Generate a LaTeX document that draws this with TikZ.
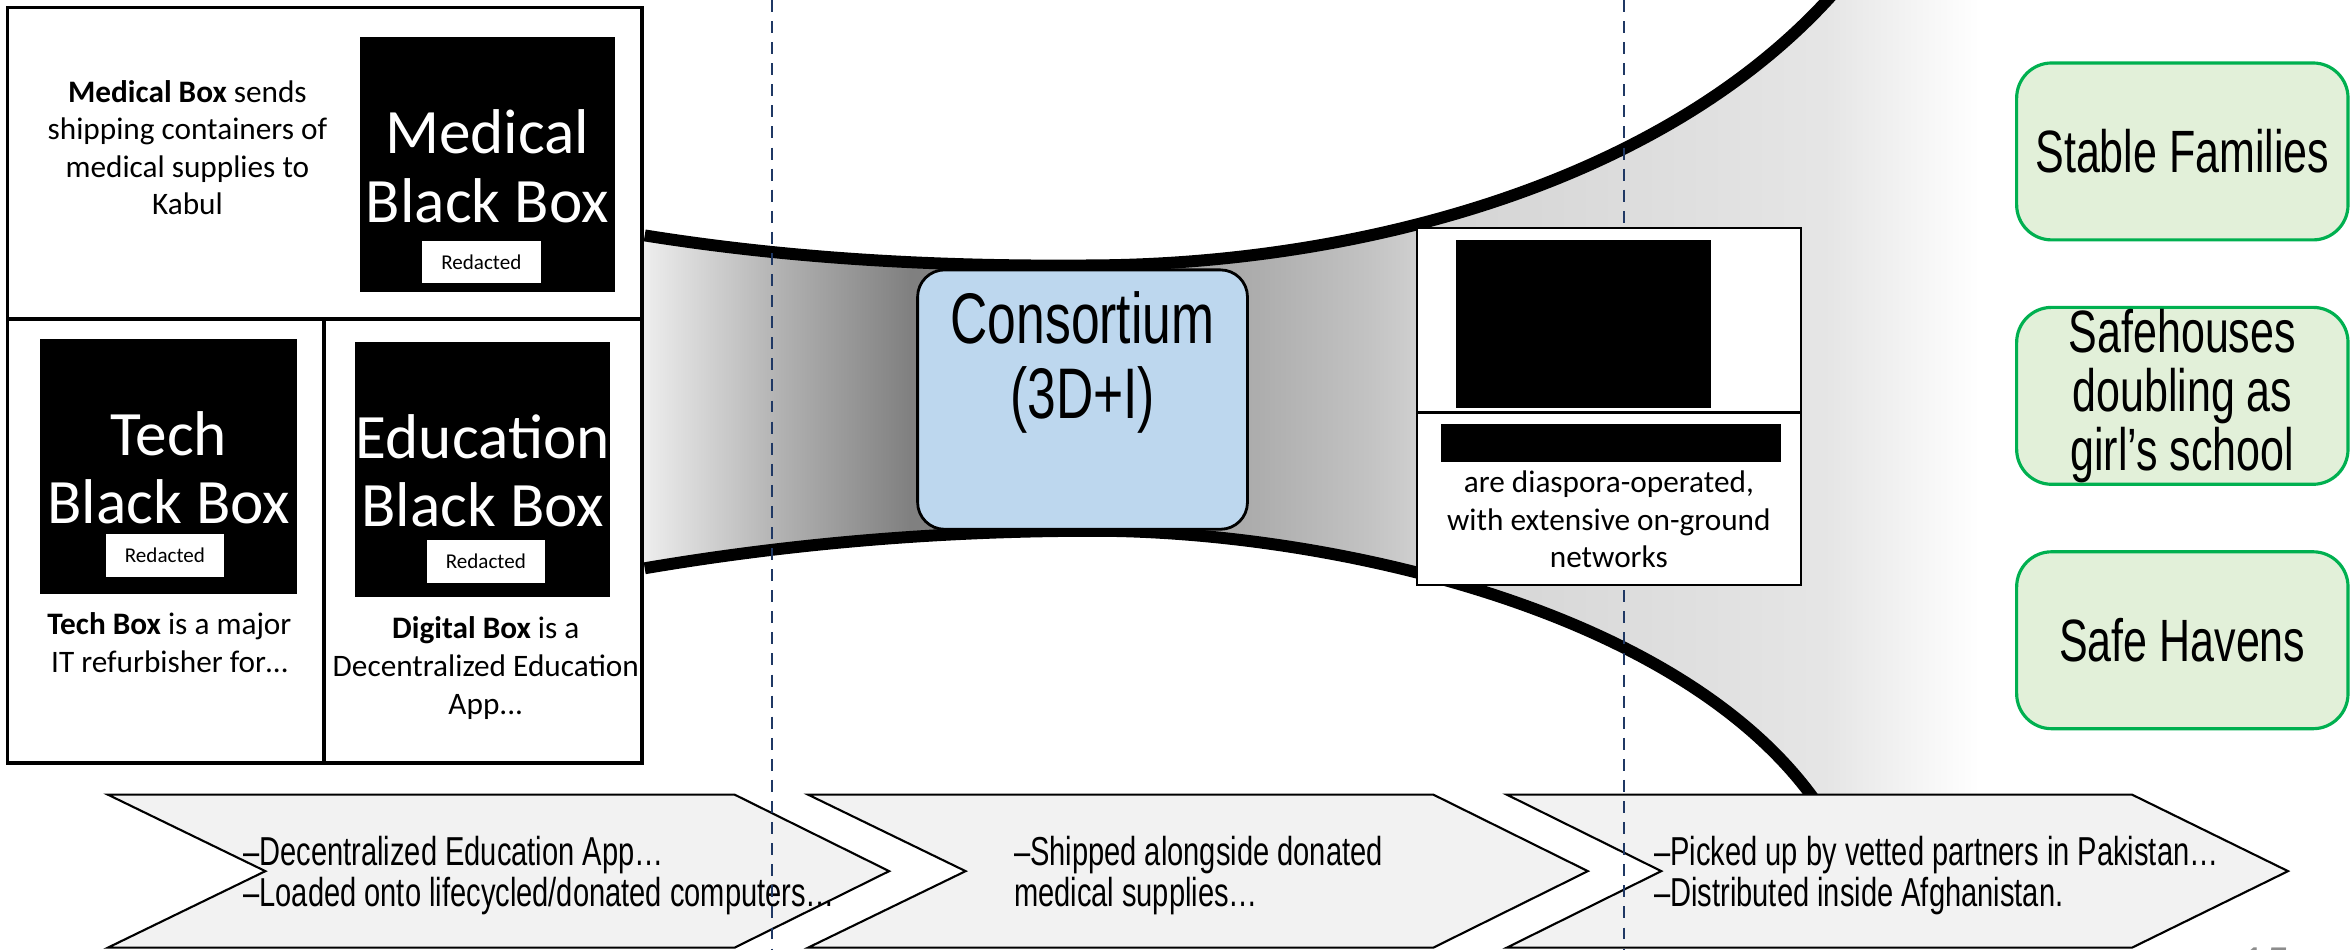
\documentclass[tikz,border=0pt]{standalone}
\usepackage{fontspec}
\setmainfont{Carlito}
\newfontfamily\narrowfont[FakeStretch=0.72]{Liberation Sans}
\usetikzlibrary{calc}
\definecolor{consblue}{HTML}{BDD7EE}
\definecolor{havenfill}{HTML}{E2F0D9}
\definecolor{havenline}{HTML}{00B050}
\definecolor{chevfill}{HTML}{F2F2F2}
\definecolor{cutnavy}{HTML}{1F3864}
\newcommand{\px}{0.015cm}
\pgfdeclarehorizontalshading{funnelgrey}{100bp}{color(0bp)=(black!7); color(25bp)=(black!7);
  color(30bp)=(black!30); color(35bp)=(black!50); color(48bp)=(black!32); color(52bp)=(black!24);
  color(54.6bp)=(black!17); color(69.3bp)=(black!10); color(75bp)=(white); color(100bp)=(white)}

\begin{document}
\begin{tikzpicture}[x=0.015cm,y=-0.015cm,
      panel/.style={draw,line width=1.1pt,inner sep=0pt},
      blackbox/.style={fill=black,inner sep=0pt},
      title/.style={text=white,align=center,font=\fontsize{18}{19.6}\selectfont},
      redact/.style={fill=white,inner sep=0pt,font=\fontsize{6}{7}\selectfont},
      body/.style={align=center,font=\fontsize{8.9}{10.7}\selectfont},
      haven/.style={draw=havenline,fill=havenfill,line width=0.9pt,rounded corners=0.35cm,
        minimum width=221*\px,minimum height=118*\px,inner sep=0pt,align=center,
        font=\narrowfont\fontsize{17}{16.8}\selectfont},
      chev/.style={draw,fill=chevfill,line width=0.6pt},
      chevtext/.style={anchor=west,align=left,font=\narrowfont\fontsize{11.5}{10.6}\selectfont},
      cutline/.style={cutnavy,line width=0.6pt,dash pattern=on 3.4pt off 2.6pt},
      funnel/.style={line width=3.4pt}]
    \path[use as bounding box,fill=white] (0,0) rectangle (1568,633);

    \begin{scope}
      \clip (430,157) .. controls (530,173) and (630,178) .. (730,177)
        .. controls (900,176) and (1110,125) .. (1226,-8) -- (1320,-8) -- (1320,560) -- (1218,545)
        .. controls (1130,405) and (880,354) .. (730,354)
        .. controls (630,354) and (530,362) .. (430,379) -- cycle;
      \shade[shading=funnelgrey] (430,-10) rectangle (1320,560);
    \end{scope}
    \draw[funnel] (430,157) .. controls (530,173) and (630,178) .. (730,177)
      .. controls (900,176) and (1110,125) .. (1226,-8);
    \draw[funnel] (430,379) .. controls (530,362) and (630,354) .. (730,354)
      .. controls (880,354) and (1130,405) .. (1218,545);

    \draw[chev] (72,530) -- (490,530) -- (593,581) -- (490,632) -- (72,632) -- (177,581) -- cycle;
    \draw[chev] (539,530) -- (956,530) -- (1059,581) -- (956,632) -- (539,632) -- (644,581) -- cycle;
    \draw[chev] (1005,530) -- (1422,530) -- (1526,581) -- (1422,632) -- (1005,632) -- (1108,581) -- cycle;
    \node[chevtext] (chevtextA) at (154,584) {–Decentralized Education App…\\–Loaded onto lifecycled/donated computers…};
    \node[chevtext] (chevtextB) at (668,584) {–Shipped alongside donated\\medical supplies…};
    \node[chevtext] (chevtextC) at (1095,584) {–Picked up by vetted partners in Pakistan…\\–Distributed inside Afghanistan.};

    \coordinate (cutAtop) at (515,0);
    \coordinate (cutAbot) at (515,633);
    \coordinate (cutBtop) at (1083,0);
    \coordinate (cutBbot) at (1083,633);
    \draw[cutline] (cutAtop) -- (cutAbot);
    \draw[cutline] (cutBtop) -- (cutBbot);

    \node[panel,minimum width=423*\px,minimum height=208*\px] (medpanel) at (216.5,109) {};
    \node[panel,minimum width=211*\px,minimum height=296*\px] (techpanel) at (110.5,361) {};
    \node[panel,minimum width=212*\px,minimum height=296*\px] (edupanel) at (322,361) {};

    \node[blackbox,minimum width=170*\px,minimum height=170*\px] (medblack) at (325,110) {};
    \node[blackbox,minimum width=171*\px,minimum height=170*\px] (techblack) at (112.5,311) {};
    \node[blackbox,minimum width=170*\px,minimum height=170*\px] (edublack) at (322,313) {};
    \node[title] (medtitle) at (325,111) {Medical\\Black Box};
    \node[title] (techtitle) at (112.5,312) {Tech\\Black Box};
    \node[title] (edutitle) at (322,314) {Education\\Black Box};
    \node[redact,minimum width=79*\px,minimum height=28*\px] (medredact) at (321,175) {Redacted};
    \node[redact,minimum width=79*\px,minimum height=29*\px] (techredact) at (110,370.5) {Redacted};
    \node[redact,minimum width=79*\px,minimum height=29*\px] (eduredact) at (324,374.5) {Redacted};

    \node[body] (medtext) at (125,98.5) {\textbf{Medical Box} sends\\shipping containers of\\medical supplies to\\Kabul};
    \node[body] (techtext) at (113,428.5) {\textbf{Tech Box} is a major\\IT refurbisher for…};
    \node[body] (edutext) at (324,445.5) {\textbf{Digital Box} is a\\Decentralized Education\\App...};

    \node[draw,fill=consblue,line width=0.8pt,rounded corners=0.27cm,minimum width=220*\px,
      minimum height=173*\px] (consortium) at (722,266.5) {};
    \node[align=center,font=\narrowfont\fontsize{20.4}{21.3}\selectfont] (constext) at (722,242) {Consortium\\(3D+I)};

    \node[draw,fill=white,line width=0.7pt,minimum width=256*\px,minimum height=123*\px] (partnertop) at (1073,213.5) {};
    \node[draw,fill=white,line width=0.7pt,minimum width=256*\px,minimum height=115*\px] (partnerbottom) at (1073,332.5) {};
    \node[blackbox,minimum width=170*\px,minimum height=112*\px] (partnerlogo) at (1056,216) {};
    \node[blackbox,minimum width=227*\px,minimum height=25*\px] (partnerbar) at (1074.5,295.5) {};
    \node[body] (partnertext) at (1073,346.5) {are diaspora-operated,\\with extensive on-ground\\networks};

    \node[haven] (families) at (1455.5,101) {Stable Families};
    \node[haven] (safehouses) at (1455.5,264) {Safehouses\\doubling as\\girl’s school};
    \node[haven] (havens) at (1455.5,427) {Safe Havens};

    \node[anchor=north,text=black!45,font=\fontsize{14}{14}\selectfont] (pagenum) at (1511,624) {15};
\end{tikzpicture}
\end{document}
